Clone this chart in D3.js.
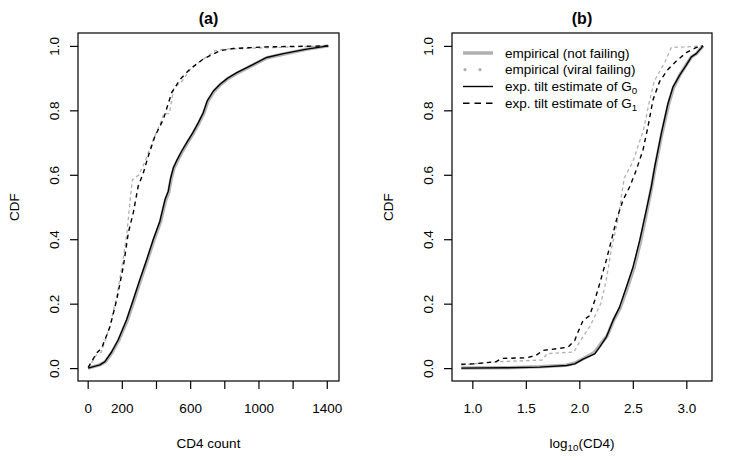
<!DOCTYPE html>
<html>
<head>
<meta charset="utf-8">
<script src="https://cdn.jsdelivr.net/npm/d3@7"></script>
<style>
body { margin:0; background:#fff; }
text { font-family: "Liberation Sans", Arial, sans-serif; fill:#000; }
</style>
</head>
<body>
<script>
// panel (a): CD4 count
var a_g0 = [[3,0],[72,0.01],[101,0.02],[140,0.05],[179,0.088],[228,0.15],[267,0.212],[306,0.275],[346,0.337],[384,0.399],[423,0.456],[453,0.523],[472,0.549],[486,0.59],[502,0.622],[525,0.648],[550,0.673],[580,0.7],[615,0.73],[648,0.762],[677,0.793],[700,0.829],[736,0.86],[775,0.881],[820,0.9],[873,0.917],[970,0.943],[1048,0.964],[1146,0.976],[1283,0.99],[1409,1]];
var a_g1 = [[3,0.002],[53,0.047],[82,0.062],[131,0.129],[170,0.212],[209,0.316],[238,0.42],[267,0.482],[296,0.565],[326,0.606],[355,0.658],[394,0.72],[443,0.772],[492,0.855],[541,0.896],[599,0.928],[677,0.959],[775,0.985],[853,0.992],[1048,0.997],[1409,1]];
var a_emp0 = [[3,0],[70,0.01],[104,0.02],[142,0.048],[182,0.086],[231,0.147],[270,0.208],[309,0.272],[349,0.334],[387,0.396],[426,0.453],[456,0.52],[475,0.547],[489,0.588],[505,0.62],[528,0.646],[553,0.671],[583,0.698],[618,0.728],[651,0.76],[680,0.791],[703,0.827],[739,0.858],[778,0.88],[823,0.899],[875,0.915],[972,0.942],[1050,0.963],[1150,0.975],[1285,0.99],[1409,1]];
var a_emp1 = [[3,0],[50,0.04],[80,0.05],[130,0.13],[170,0.22],[205,0.33],[230,0.42],[250,0.53],[262,0.585],[300,0.6],[335,0.64],[385,0.71],[430,0.765],[445,0.79],[478,0.79],[505,0.87],[552,0.89],[605,0.93],[680,0.96],[745,0.985],[800,0.99],[1100,0.995],[1409,1]];

// panel (b): log10(CD4)
var b_g0 = [[0.897,0],[1.318,0.001],[1.63,0.003],[1.88,0.008],[1.957,0.013],[2.035,0.028],[2.144,0.044],[2.19,0.065],[2.252,0.096],[2.315,0.148],[2.377,0.19],[2.44,0.252],[2.502,0.314],[2.565,0.397],[2.626,0.49],[2.673,0.563],[2.705,0.625],[2.766,0.728],[2.829,0.822],[2.876,0.873],[2.938,0.909],[3.0,0.94],[3.047,0.966],[3.093,0.976],[3.156,1]];
var b_g1 = [[0.897,0.012],[1.006,0.013],[1.224,0.02],[1.271,0.03],[1.505,0.032],[1.598,0.04],[1.661,0.055],[1.785,0.06],[1.894,0.065],[1.957,0.086],[1.988,0.112],[2.035,0.148],[2.097,0.163],[2.144,0.21],[2.19,0.262],[2.252,0.335],[2.3,0.397],[2.346,0.459],[2.408,0.521],[2.471,0.563],[2.533,0.615],[2.595,0.677],[2.642,0.75],[2.689,0.833],[2.751,0.89],[2.829,0.927],[2.907,0.953],[3.0,0.979],[3.093,0.995],[3.156,1]];
var b_emp0 = [[0.897,0],[1.32,0.001],[1.63,0.004],[1.88,0.009],[1.96,0.016],[2.04,0.03],[2.14,0.048],[2.2,0.075],[2.26,0.1],[2.32,0.148],[2.38,0.185],[2.45,0.25],[2.51,0.31],[2.57,0.39],[2.63,0.485],[2.675,0.56],[2.71,0.625],[2.77,0.725],[2.835,0.82],[2.88,0.87],[2.94,0.91],[3.0,0.942],[3.05,0.966],[3.095,0.976],[3.156,1]];
var b_emp1 = [[0.897,0.01],[1.25,0.02],[1.65,0.025],[1.7,0.045],[1.95,0.05],[2.0,0.08],[2.1,0.13],[2.2,0.2],[2.25,0.27],[2.3,0.37],[2.36,0.46],[2.42,0.59],[2.5,0.64],[2.6,0.74],[2.65,0.82],[2.7,0.89],[2.8,0.95],[2.86,0.995],[3.0,0.997],[3.156,1]];

var yTicks = [0, 0.2, 0.4, 0.6, 0.8, 1.0];
var aTicks = [0, 200, 400, 600, 800, 1000, 1200, 1400];
var aLabels = [0, 200, 600, 1000, 1400];
var bTicks = [1.0, 1.5, 2.0, 2.5, 3.0];

var legendLabels = ["empirical (not failing)", "empirical (viral failing)", "exp. tilt estimate of G", "exp. tilt estimate of G"];
var legendSubs = ["", "", "0", "1"];

var width = 747, height = 460;
var fs = 13.5;
var svg = d3.select("body").append("svg").attr("width", width).attr("height", height);

// R style 4% padding on both sides
function pad(lo, hi) { var d = (hi - lo) * 0.04; return [lo - d, hi + d]; }

var y = d3.scaleLinear().domain(pad(0, 1)).range([381, 33]);

function panel(opts) {
  var x = d3.scaleLinear().domain(pad(opts.xmin, opts.xmax)).range([opts.left, opts.right]);
  var g = svg.append("g");
  var cx = (opts.left + opts.right) / 2;

  var line = d3.line().x(function(d){ return x(d[0]); }).y(function(d){ return y(d[1]); });

  g.append("path").datum(opts.emp0).attr("d", line)
    .attr("fill","none").attr("stroke","#b3b3b3").attr("stroke-width",3.5).attr("stroke-linejoin","round");
  g.append("path").datum(opts.emp1).attr("d", line)
    .attr("fill","none").attr("stroke","#b0b0b0").attr("stroke-width",1.3).attr("stroke-dasharray","3.5,3");
  g.append("path").datum(opts.g0).attr("d", line)
    .attr("fill","none").attr("stroke","#000").attr("stroke-width",1.4).attr("stroke-linejoin","round");
  g.append("path").datum(opts.g1).attr("d", line)
    .attr("fill","none").attr("stroke","#000").attr("stroke-width",1.4).attr("stroke-dasharray","4.5,4");

  // box
  g.append("rect").attr("x", opts.left).attr("y", 33)
    .attr("width", opts.right - opts.left).attr("height", 348)
    .attr("fill","none").attr("stroke","#000").attr("stroke-width",1.2);

  // x axis
  var xa = g.append("g").attr("transform","translate(0,381)")
    .call(d3.axisBottom(x).tickValues(opts.ticks).tickSize(8).tickFormat(function(d){
      return opts.labels.indexOf(d) >= 0 ? opts.fmt(d) : "";
    }));
  xa.select(".domain").remove();
  xa.selectAll("line").attr("stroke","#000").attr("stroke-width",1.2);
  xa.selectAll("text").attr("font-size", fs).attr("font-family", null).attr("y", 22).attr("dy","0.71em");

  // y axis
  var ya = g.append("g").attr("transform","translate(" + opts.left + ",0)")
    .call(d3.axisLeft(y).tickValues(yTicks).tickSize(8).tickFormat(d3.format(".1f")));
  ya.select(".domain").remove();
  ya.selectAll("line").attr("stroke","#000").attr("stroke-width",1.2);
  ya.selectAll("text").attr("font-size", fs).attr("font-family", null)
    .attr("x", null).attr("dy", null)
    .attr("text-anchor","middle")
    .attr("transform","translate(-24,0) rotate(-90)")
    .attr("y", 0).attr("dy","0.35em");

  // titles
  g.append("text").attr("x", cx).attr("y", 24).attr("text-anchor","middle")
    .attr("font-size", 16).attr("font-weight","bold").text(opts.title);
  g.append("text").attr("transform","translate(" + (opts.left - 59) + ",207) rotate(-90)")
    .attr("text-anchor","middle").attr("font-size", fs).text("CDF");
  var xl = g.append("text").attr("x", cx).attr("y", 448).attr("text-anchor","middle").attr("font-size", fs);
  opts.xlab(xl);
  return x;
}

panel({left:78, right:339, xmin:0, xmax:1415, ticks:aTicks, labels:aLabels,
  fmt:function(d){ return String(d); }, title:"(a)",
  g0:a_g0, g1:a_g1, emp0:a_emp0, emp1:a_emp1,
  xlab:function(t){ t.text("CD4 count"); }});

panel({left:452, right:712, xmin:0.9, xmax:3.15, ticks:bTicks, labels:bTicks,
  fmt:d3.format(".1f"), title:"(b)",
  g0:b_g0, g1:b_g1, emp0:b_emp0, emp1:b_emp1,
  xlab:function(t){
    t.append("tspan").text("log");
    t.append("tspan").attr("font-size", fs*0.72).attr("dy", 3).text("10");
    t.append("tspan").attr("dy", -3).text("(CD4)");
  }});

// legend in panel (b)
var rowY = [53, 69.7, 86.5, 103.3];
var lg = svg.append("g");
var rows = lg.selectAll("g").data(legendLabels).enter().append("g")
  .attr("transform", function(d, i){ return "translate(0," + rowY[i] + ")"; });
rows.append("line")
  .attr("x1", function(d, i){ return i == 1 ? 465 : 463; })
  .attr("x2", function(d, i){ return i == 1 ? 481 : 493; })
  .attr("stroke", function(d, i){ return i < 2 ? "#b0b0b0" : "#000"; })
  .attr("stroke-width", function(d, i){ return i == 0 ? 3.5 : (i == 1 ? 3.2 : 1.4); })
  .attr("stroke-linecap", function(d, i){ return i == 1 ? "round" : "butt"; })
  .attr("stroke-dasharray", function(d, i){ return i == 1 ? "0,15" : (i == 3 ? "6.5,5" : null); });
var lt = rows.append("text").attr("x", 505).attr("dy","0.35em").attr("font-size", fs);
lt.append("tspan").text(function(d){ return d; });
lt.append("tspan").attr("font-size", fs*0.72).attr("dy", 3).text(function(d, i){ return legendSubs[i]; });
</script>
</body>
</html>
